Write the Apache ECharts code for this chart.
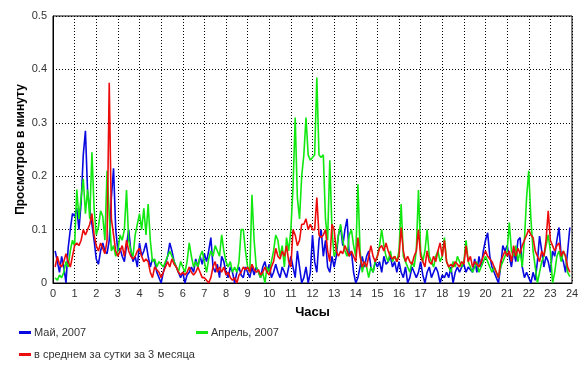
<!DOCTYPE html>
<html>
<head>
<meta charset="utf-8">
<script src="https://cdn.jsdelivr.net/npm/echarts@6/dist/echarts.min.js"></script>
<style>
html,body{margin:0;padding:0;background:#fff;}
#c{width:585px;height:366px;}
</style>
</head>
<body>
<div id="c"></div>
<script>
// Time axis: first sample hour and step (hours)
const startHour = 0.1;
const stepHour = 0.1;

const xTicks = ['0','1','2','3','4','5','6','7','8','9','10','11','12','13','14','15','16','17','18','19','20','21','22','23','24'];
const yTicks = ['0','0.1','0.2','0.3','0.4','0.5'];

const seriesNames = ['Май, 2007', 'Апрель, 2007', 'в среднем за сутки за 3 месяца'];

const may2007 = [
  0.06,0.04,0.02,0.05,0.03,0.0,0.065,0.1,0.13,0.125,
  0.14,0.1,0.15,0.24,0.285,0.17,0.14,0.11,0.08,0.045,
  0.035,0.06,0.075,0.06,0.055,0.08,0.16,0.215,0.1,0.06,
  0.065,0.05,0.04,0.07,0.1,0.06,0.04,0.05,0.03,0.075,
  0.05,0.06,0.075,0.05,0.03,0.045,0.04,0.02,0.01,0.0,
  0.02,0.035,0.05,0.075,0.06,0.04,0.03,0.02,0.01,0.02,
  0.0,0.015,0.02,0.03,0.02,0.045,0.03,0.05,0.035,0.055,
  0.04,0.06,0.085,0.03,0.02,0.035,0.01,0.05,0.04,0.02,
  0.01,0.03,0.02,0.0,0.02,0.03,0.015,0.01,0.03,0.02,
  0.01,0.03,0.015,0.03,0.02,0.01,0.03,0.04,0.02,0.035,
  0.01,0.02,0.035,0.02,0.01,0.03,0.02,0.01,0.03,0.05,
  0.03,0.01,0.06,0.03,0.0,0.01,0.03,0.0,0.02,0.09,
  0.04,0.02,0.08,0.1,0.05,0.08,0.03,0.02,0.05,0.03,
  0.05,0.09,0.105,0.07,0.1,0.12,0.05,0.06,0.02,0.0,
  0.01,0.03,0.05,0.03,0.05,0.06,0.03,0.02,0.04,0.03,
  0.04,0.02,0.05,0.035,0.04,0.05,0.03,0.04,0.02,0.04,
  0.02,0.01,0.03,0.0,0.01,0.03,0.02,0.01,0.02,0.04,
  0.015,0.0,0.02,0.03,0.01,0.02,0.03,0.02,0.0,0.015,
  0.01,0.02,0.01,0.03,0.0,0.02,0.03,0.02,0.03,0.035,
  0.02,0.03,0.025,0.02,0.045,0.02,0.05,0.03,0.06,0.08,
  0.094,0.05,0.03,0.02,0.01,0.0,0.03,0.07,0.06,0.07,
  0.05,0.03,0.06,0.04,0.08,0.085,0.03,0.01,0.02,0.01,
  0.0,0.02,0.005,0.04,0.088,0.06,0.03,0.05,0.04,0.02,
  0.06,0.05,0.08,0.104,0.05,0.04,0.02,0.06,0.104
];

const april2007 = [
  0.01,0.005,0.015,0.01,0.02,0.04,0.03,0.06,0.08,0.07,
  0.175,0.12,0.16,0.195,0.13,0.175,0.12,0.245,0.14,0.09,
  0.105,0.135,0.125,0.08,0.21,0.13,0.06,0.07,0.05,0.06,
  0.09,0.08,0.1,0.174,0.08,0.06,0.05,0.09,0.11,0.13,
  0.1,0.14,0.09,0.148,0.08,0.04,0.045,0.03,0.04,0.035,
  0.03,0.04,0.05,0.06,0.05,0.04,0.03,0.02,0.04,0.03,
  0.02,0.04,0.075,0.05,0.03,0.04,0.03,0.05,0.06,0.04,
  0.02,0.045,0.06,0.05,0.07,0.06,0.05,0.09,0.06,0.04,
  0.03,0.04,0.02,0.03,0.02,0.04,0.1,0.1,0.06,0.03,
  0.02,0.165,0.08,0.03,0.02,0.01,0.02,0.0,0.03,0.02,
  0.04,0.06,0.09,0.08,0.05,0.07,0.03,0.085,0.06,0.1,
  0.18,0.31,0.16,0.12,0.2,0.24,0.31,0.24,0.23,0.235,
  0.24,0.385,0.24,0.235,0.24,0.12,0.08,0.23,0.1,0.05,
  0.06,0.09,0.11,0.08,0.06,0.05,0.09,0.1,0.07,0.05,
  0.185,0.06,0.02,0.04,0.03,0.01,0.03,0.02,0.04,0.05,
  0.07,0.1,0.07,0.05,0.04,0.06,0.04,0.05,0.04,0.06,
  0.148,0.05,0.04,0.03,0.02,0.04,0.03,0.06,0.174,0.06,
  0.04,0.06,0.1,0.05,0.04,0.03,0.05,0.06,0.04,0.05,
  0.085,0.04,0.03,0.02,0.04,0.03,0.05,0.04,0.03,0.04,
  0.08,0.04,0.03,0.02,0.03,0.04,0.02,0.03,0.04,0.05,
  0.04,0.03,0.02,0.03,0.02,0.01,0.03,0.04,0.05,0.06,
  0.113,0.06,0.05,0.07,0.04,0.06,0.03,0.08,0.16,0.21,
  0.12,0.06,0.03,0.0,0.02,0.04,0.05,0.07,0.09,0.06,
  0.0,0.02,0.05,0.06,0.04,0.06,0.05,0.02,0.012
];

const avg3months = [
  0.03,0.05,0.035,0.03,0.04,0.055,0.04,0.03,0.05,0.07,
  0.075,0.07,0.08,0.1,0.09,0.1,0.11,0.13,0.09,0.07,
  0.06,0.075,0.065,0.055,0.08,0.375,0.12,0.09,0.06,0.05,
  0.06,0.07,0.05,0.08,0.06,0.05,0.045,0.05,0.06,0.065,
  0.05,0.04,0.045,0.04,0.02,0.01,0.03,0.025,0.02,0.01,
  0.02,0.03,0.04,0.03,0.045,0.035,0.03,0.02,0.015,0.02,
  0.015,0.02,0.03,0.02,0.015,0.02,0.03,0.02,0.01,0.01,
  0.005,0.0,0.01,0.03,0.04,0.02,0.03,0.02,0.03,0.015,
  0.02,0.01,0.005,0.01,0.0,0.015,0.02,0.03,0.025,0.03,
  0.02,0.035,0.025,0.02,0.025,0.015,0.02,0.03,0.02,0.015,
  0.03,0.04,0.065,0.05,0.045,0.06,0.05,0.07,0.04,0.03,
  0.1,0.09,0.07,0.08,0.11,0.11,0.12,0.1,0.11,0.1,
  0.1,0.16,0.09,0.085,0.09,0.1,0.06,0.04,0.11,0.1,
  0.06,0.05,0.06,0.055,0.07,0.06,0.05,0.06,0.05,0.04,
  0.085,0.05,0.03,0.04,0.03,0.05,0.07,0.05,0.04,0.05,
  0.065,0.07,0.06,0.075,0.06,0.05,0.045,0.05,0.04,0.05,
  0.104,0.06,0.04,0.05,0.04,0.035,0.05,0.06,0.1,0.05,
  0.04,0.03,0.06,0.04,0.035,0.05,0.04,0.06,0.075,0.05,
  0.08,0.04,0.03,0.035,0.03,0.04,0.035,0.03,0.04,0.035,
  0.07,0.04,0.05,0.03,0.04,0.035,0.03,0.04,0.05,0.06,
  0.05,0.045,0.04,0.03,0.02,0.01,0.04,0.05,0.06,0.05,
  0.06,0.04,0.07,0.05,0.065,0.055,0.07,0.08,0.09,0.1,
  0.09,0.085,0.06,0.05,0.04,0.06,0.05,0.08,0.135,0.08,
  0.07,0.06,0.07,0.075,0.05,0.06,0.05,0.03,0.02
];

function toPairs(arr) {
  return arr.map((v, i) => [+(startHour + i * stepHour).toFixed(2), v]);
}

const colors = ['#0808e0', '#10e810', '#ec0c0c'];
const chart = echarts.init(document.getElementById('c'), null, {renderer: 'canvas'});

const dotted = {color: '#000', type: [1, 2], width: 1};
const labelFont = {fontFamily: 'Arial, "Liberation Sans", sans-serif', fontSize: 11, color: '#333'};

chart.setOption({
  animation: false,
  backgroundColor: '#fff',
  grid: {left: 53, right: 13, top: 16, bottom: 83, show: true, borderColor: '#000', borderWidth: 1, backgroundColor: 'transparent'},
  legend: [
    {data: [seriesNames[0]], left: 14, top: 322, icon: 'rect', itemWidth: 12, itemHeight: 3, textStyle: Object.assign({}, labelFont, {padding: [0,0,0,-2]})},
    {data: [seriesNames[1]], left: 191, top: 322, icon: 'rect', itemWidth: 12, itemHeight: 3, textStyle: Object.assign({}, labelFont, {padding: [0,0,0,-2]})},
    {data: [seriesNames[2]], left: 14, top: 344, icon: 'rect', itemWidth: 12, itemHeight: 3, textStyle: Object.assign({}, labelFont, {padding: [0,0,0,-2]})}
  ],
  xAxis: {
    type: 'value', min: 0, max: 24, interval: 1,
    name: 'Часы', nameLocation: 'middle', nameGap: 23,
    nameTextStyle: {fontFamily: 'Arial, "Liberation Sans", sans-serif', fontSize: 13, fontWeight: 'bold', color: '#000'},
    axisLine: {show: true, lineStyle: {color: '#000', width: 1}},
    axisTick: {show: false},
    axisLabel: Object.assign({}, labelFont, {margin: 5, formatter: v => (Number.isInteger(v) ? xTicks[v] : '')}),
    splitLine: {show: true, lineStyle: dotted}
  },
  yAxis: {
    type: 'value', min: 0, max: 0.5, interval: 0.1,
    name: 'Просмотров в минуту', nameLocation: 'middle', nameGap: 26, nameMoveOverlap: false,
    nameTextStyle: {fontFamily: 'Arial, "Liberation Sans", sans-serif', fontSize: 12, fontWeight: 'bold', color: '#000'},
    axisLine: {show: true, lineStyle: {color: '#000', width: 1}},
    axisTick: {show: false},
    axisLabel: Object.assign({}, labelFont, {margin: 6, formatter: v => yTicks[Math.round(v * 10)]}),
    splitLine: {show: true, lineStyle: dotted}
  },
  series: [
    {name: seriesNames[0], type: 'line', data: toPairs(may2007), showSymbol: false, symbol: 'none', lineStyle: {width: 1.6, color: colors[0]}, itemStyle: {color: colors[0]}, z: 2},
    {name: seriesNames[1], type: 'line', data: toPairs(april2007), showSymbol: false, symbol: 'none', lineStyle: {width: 1.6, color: colors[1]}, itemStyle: {color: colors[1]}, z: 3},
    {name: seriesNames[2], type: 'line', data: toPairs(avg3months), showSymbol: false, symbol: 'none', lineStyle: {width: 1.6, color: colors[2]}, itemStyle: {color: colors[2]}, z: 4}
  ]
});
</script>
</body>
</html>
